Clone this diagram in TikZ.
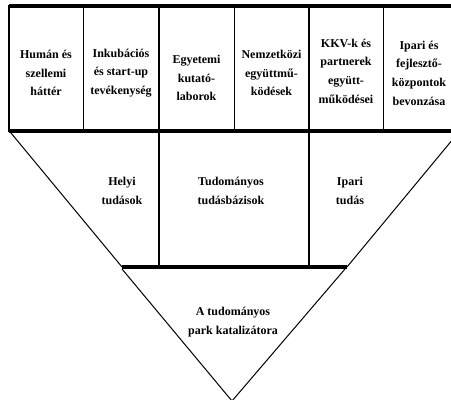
\documentclass[tikz,border=0pt]{standalone}
\usepackage{fontspec}
\setmainfont{Liberation Serif}
\begin{document}
\begin{tikzpicture}[x=0.75pt,y=0.75pt,yscale=-1,xscale=1]
	\tikzset{
		cell/.style={align=center,inner sep=0.75pt,font=\bfseries\fontsize{9}{14}\selectfont},
		thin line/.style={line width=0.75pt},
		mid line/.style={line width=1.5pt},
		thick line/.style={line width=3pt}
	}
	\useasboundingbox (0,0) rectangle (451,400);
	\clip (0,0) rectangle (451,400);
	
	%Shape: top box
	\draw [thick line] (460,6) -- (9,6) ;
	\draw [thick line] (9,131) -- (460,131) ;
	\draw [mid line] (9,5) -- (9,132) ;
	%Straight Lines: column borders
	\draw [thin line] (83,6) -- (83,131) ;
	\draw [mid line] (159,6) -- (159,131) ;
	\draw [thin line] (234,6) -- (234,131) ;
	\draw [mid line] (309,6) -- (309,131) ;
	\draw [thin line] (383,6) -- (383,131) ;
	
	%Shape: trapezoid
	\draw [thin line] (11,133) -- (122,267) ;
	\draw [thin line] (458,133) -- (347,267) ;
	\draw [mid line] (159,131) -- (159,267) ;
	\draw [mid line] (309,131) -- (309,267) ;
	\draw [thick line] (122,267) -- (347,267) ;
	
	%Shape: triangle
	\draw [thin line] (122,269) -- (232,401) -- (345,269) ;
	
	% Text Node
	\node [cell] (human) at (46,73) {Humán és\\szellemi\\háttér};
	% Text Node
	\node [cell] (inkub) at (121,73) {Inkubációs\\és start-up\\tevékenység};
	% Text Node
	\node [cell] (egyetem) at (196.5,78) {Egyetemi\\kutató-\\laborok};
	% Text Node
	\node [cell] (nemzetk) at (271.5,73) {Nemzetközi\\együttmű-\\ködések};
	% Text Node
	\node [cell] (kkv) at (346,71) {KKV-k és\\partnerek\\együtt-\\működései};
	% Text Node
	\node [cell] (ipari) at (419,73) {Ipari és\\fejlesztő-\\központok\\bevonzása};
	% Text Node
	\node [cell] (helyi) at (122,191) {Helyi\\tudások};
	% Text Node
	\node [cell] (tudomany) at (231,191) {Tudományos\\tudásbázisok};
	% Text Node
	\node [cell] (iparitudas) at (350,191) {Ipari\\tudás};
	% Text Node
	\node [cell] (katalizator) at (233,322) {A tudományos\\park katalizátora};
\end{tikzpicture}
\end{document}
